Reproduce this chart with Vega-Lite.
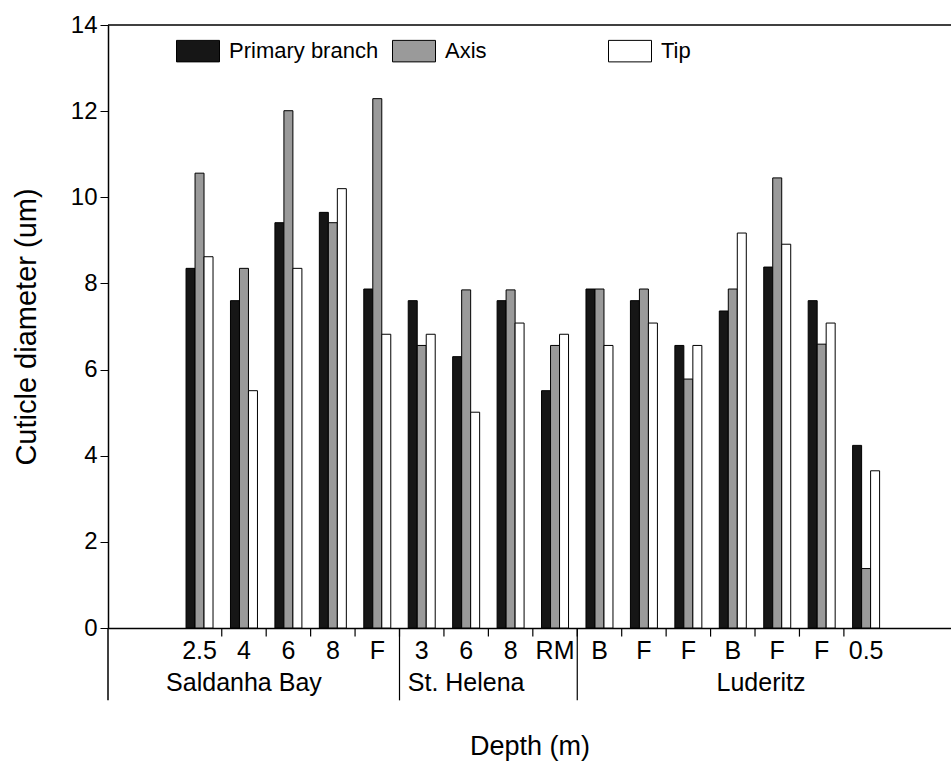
{
  "$schema": "https://vega.github.io/schema/vega-lite/v6.json",
  "autosize": {"type": "none"},
  "padding": {"left": 108, "top": 25, "right": 0, "bottom": 138},
  "width": 843,
  "height": 603,
  "background": "white",
  "config": {
    "view": {"stroke": null},
    "font": "Liberation Sans",
    "axis": {"labelColor": "black", "titleColor": "black", "domainColor": "black", "tickColor": "black", "grid": false, "titleFontWeight": "normal", "labelFont": "Liberation Sans", "titleFont": "Liberation Sans"},
    "text": {"font": "Liberation Sans", "color": "black"}
  },
  "datasets": {
    "bars": [
      {"key": "SB1|2.5", "site": "Saldanha Bay", "part": "Primary branch", "value": 8.35},
      {"key": "SB1|2.5", "site": "Saldanha Bay", "part": "Axis", "value": 10.56},
      {"key": "SB1|2.5", "site": "Saldanha Bay", "part": "Tip", "value": 8.62},
      {"key": "SB2|4", "site": "Saldanha Bay", "part": "Primary branch", "value": 7.6},
      {"key": "SB2|4", "site": "Saldanha Bay", "part": "Axis", "value": 8.35},
      {"key": "SB2|4", "site": "Saldanha Bay", "part": "Tip", "value": 5.51},
      {"key": "SB3|6", "site": "Saldanha Bay", "part": "Primary branch", "value": 9.41},
      {"key": "SB3|6", "site": "Saldanha Bay", "part": "Axis", "value": 12.01},
      {"key": "SB3|6", "site": "Saldanha Bay", "part": "Tip", "value": 8.35},
      {"key": "SB4|8", "site": "Saldanha Bay", "part": "Primary branch", "value": 9.65},
      {"key": "SB4|8", "site": "Saldanha Bay", "part": "Axis", "value": 9.41},
      {"key": "SB4|8", "site": "Saldanha Bay", "part": "Tip", "value": 10.2},
      {"key": "SB5|F", "site": "Saldanha Bay", "part": "Primary branch", "value": 7.87},
      {"key": "SB5|F", "site": "Saldanha Bay", "part": "Axis", "value": 12.29},
      {"key": "SB5|F", "site": "Saldanha Bay", "part": "Tip", "value": 6.82},
      {"key": "SH1|3", "site": "St. Helena", "part": "Primary branch", "value": 7.6},
      {"key": "SH1|3", "site": "St. Helena", "part": "Axis", "value": 6.56},
      {"key": "SH1|3", "site": "St. Helena", "part": "Tip", "value": 6.82},
      {"key": "SH2|6", "site": "St. Helena", "part": "Primary branch", "value": 6.3},
      {"key": "SH2|6", "site": "St. Helena", "part": "Axis", "value": 7.85},
      {"key": "SH2|6", "site": "St. Helena", "part": "Tip", "value": 5.01},
      {"key": "SH3|8", "site": "St. Helena", "part": "Primary branch", "value": 7.6},
      {"key": "SH3|8", "site": "St. Helena", "part": "Axis", "value": 7.85},
      {"key": "SH3|8", "site": "St. Helena", "part": "Tip", "value": 7.08},
      {"key": "SH4|RM", "site": "St. Helena", "part": "Primary branch", "value": 5.51},
      {"key": "SH4|RM", "site": "St. Helena", "part": "Axis", "value": 6.56},
      {"key": "SH4|RM", "site": "St. Helena", "part": "Tip", "value": 6.82},
      {"key": "L1|B", "site": "Luderitz", "part": "Primary branch", "value": 7.87},
      {"key": "L1|B", "site": "Luderitz", "part": "Axis", "value": 7.87},
      {"key": "L1|B", "site": "Luderitz", "part": "Tip", "value": 6.56},
      {"key": "L2|F", "site": "Luderitz", "part": "Primary branch", "value": 7.6},
      {"key": "L2|F", "site": "Luderitz", "part": "Axis", "value": 7.87},
      {"key": "L2|F", "site": "Luderitz", "part": "Tip", "value": 7.08},
      {"key": "L3|F", "site": "Luderitz", "part": "Primary branch", "value": 6.56},
      {"key": "L3|F", "site": "Luderitz", "part": "Axis", "value": 5.78},
      {"key": "L3|F", "site": "Luderitz", "part": "Tip", "value": 6.56},
      {"key": "L4|B", "site": "Luderitz", "part": "Primary branch", "value": 7.36},
      {"key": "L4|B", "site": "Luderitz", "part": "Axis", "value": 7.87},
      {"key": "L4|B", "site": "Luderitz", "part": "Tip", "value": 9.17},
      {"key": "L5|F", "site": "Luderitz", "part": "Primary branch", "value": 8.38},
      {"key": "L5|F", "site": "Luderitz", "part": "Axis", "value": 10.45},
      {"key": "L5|F", "site": "Luderitz", "part": "Tip", "value": 8.91},
      {"key": "L6|F", "site": "Luderitz", "part": "Primary branch", "value": 7.6},
      {"key": "L6|F", "site": "Luderitz", "part": "Axis", "value": 6.59},
      {"key": "L6|F", "site": "Luderitz", "part": "Tip", "value": 7.08},
      {"key": "L7|0.5", "site": "Luderitz", "part": "Primary branch", "value": 4.24},
      {"key": "L7|0.5", "site": "Luderitz", "part": "Axis", "value": 1.38},
      {"key": "L7|0.5", "site": "Luderitz", "part": "Tip", "value": 3.65}
    ]
  },
  "data": {"name": "bars"},
  "layer": [
    {
      "encoding": {
        "x": {
          "field": "key", "type": "nominal", "title": "Depth (m)", "sort": null,
          "scale": {"domain": ["start|", "SB1|2.5", "SB2|4", "SB3|6", "SB4|8", "SB5|F", "SH1|3", "SH2|6", "SH3|8", "SH4|RM", "L1|B", "L2|F", "L3|F", "L4|B", "L5|F", "L6|F", "L7|0.5", "end|"], "paddingInner": 0, "paddingOuter": 0.485, "align": 0.577},
          "axis": {"labelExpr": "split(datum.value, '|')[1]", "labelAngle": 0, "labelFontSize": 25, "labelPadding": 10, "ticks": false, "domainWidth": 1.5, "titleFontSize": 27, "titlePadding": 70}
        }
      },
      "layer": [
        {
          "mark": {"type": "bar", "stroke": "black", "strokeWidth": 1},
          "encoding": {
            "xOffset": {"field": "part", "type": "nominal", "sort": ["Primary branch", "Axis", "Tip"], "scale": {"paddingInner": 0, "paddingOuter": 0.97}},
            "y": {
              "field": "value", "type": "quantitative", "title": "Cuticle diameter (um)",
              "scale": {"domain": [0, 14], "nice": false},
              "axis": {"values": [0, 2, 4, 6, 8, 10, 12, 14], "labelFontSize": 24, "tickSize": 8, "labelPadding": 3, "domainWidth": 1.5, "titleFontSize": 29, "titlePadding": 29}
            },
            "color": {
              "field": "part", "type": "nominal", "title": null,
              "scale": {"domain": ["Primary branch", "Axis", "Tip"], "range": ["#161616", "#9a9a9a", "#ffffff"]},
              "legend": {
                "orient": "none", "legendX": 68, "legendY": 4, "direction": "horizontal", "columns": 3, "gridAlign": "all", "columnPadding": 11,
                "symbolType": "M-1,-0.5H1V0.5H-1Z", "symbolSize": 1849, "symbolStrokeColor": "black", "symbolStrokeWidth": 1,
                "labelFontSize": 22, "labelFont": "Liberation Sans", "labelColor": "black", "labelOffset": 9, "padding": 0
              }
            }
          }
        },
        {
          "transform": [{"filter": "datum.part === 'Primary branch' && datum.key !== 'SB1|2.5'"}],
          "mark": {"type": "rule", "color": "black", "strokeWidth": 1.2},
          "encoding": {
            "x": {"field": "key", "type": "nominal", "bandPosition": 0, "title": "Depth (m)", "sort": null},
            "y": {"datum": 0, "type": "quantitative"},
            "y2": {"datum": -0.2}
          }
        },
        {
          "transform": [{"filter": "datum.part === 'Primary branch' && (datum.key === 'SH1|3' || datum.key === 'L1|B')"}],
          "mark": {"type": "rule", "color": "black", "strokeWidth": 1.2},
          "encoding": {
            "x": {"field": "key", "type": "nominal", "bandPosition": 0, "title": "Depth (m)", "sort": null},
            "y": {"datum": 0, "type": "quantitative"},
            "y2": {"datum": -1.68}
          }
        },
        {
          "transform": [{"filter": "datum.part === 'Primary branch' && datum.key === 'SB2|4'"}],
          "mark": {"type": "text", "fontSize": 25, "baseline": "middle", "align": "center"},
          "encoding": {
            "y": {"datum": -1.27, "type": "quantitative"},
            "text": {"field": "site"}
          }
        },
        {
          "transform": [{"filter": "datum.part === 'Primary branch' && datum.key === 'SH2|6'"}],
          "mark": {"type": "text", "fontSize": 25, "baseline": "middle", "align": "center"},
          "encoding": {
            "y": {"datum": -1.27, "type": "quantitative"},
            "text": {"field": "site"}
          }
        },
        {
          "transform": [{"filter": "datum.part === 'Primary branch' && datum.key === 'L5|F'"}],
          "mark": {"type": "text", "fontSize": 25, "baseline": "middle", "align": "center", "dx": 6},
          "encoding": {
            "x": {"field": "key", "type": "nominal", "bandPosition": 0, "title": "Depth (m)", "sort": null},
            "y": {"datum": -1.27, "type": "quantitative"},
            "text": {"field": "site"}
          }
        }
      ]
    },
    {
      "data": {"values": [{"edge": 0}]},
      "mark": {"type": "rule", "color": "black", "strokeWidth": 1.5},
      "encoding": {
        "x": {"field": "edge", "type": "quantitative", "scale": {"domain": [0, 1]}, "axis": null},
        "y": {"datum": 0, "type": "quantitative"},
        "y2": {"datum": -1.68}
      }
    },
    {
      "data": {"values": [{"edge": 0}]},
      "mark": {"type": "rule", "color": "black", "strokeWidth": 1.5},
      "encoding": {"y": {"datum": 14, "type": "quantitative"}}
    }
  ],
  "resolve": {"scale": {"x": "independent"}}
}
